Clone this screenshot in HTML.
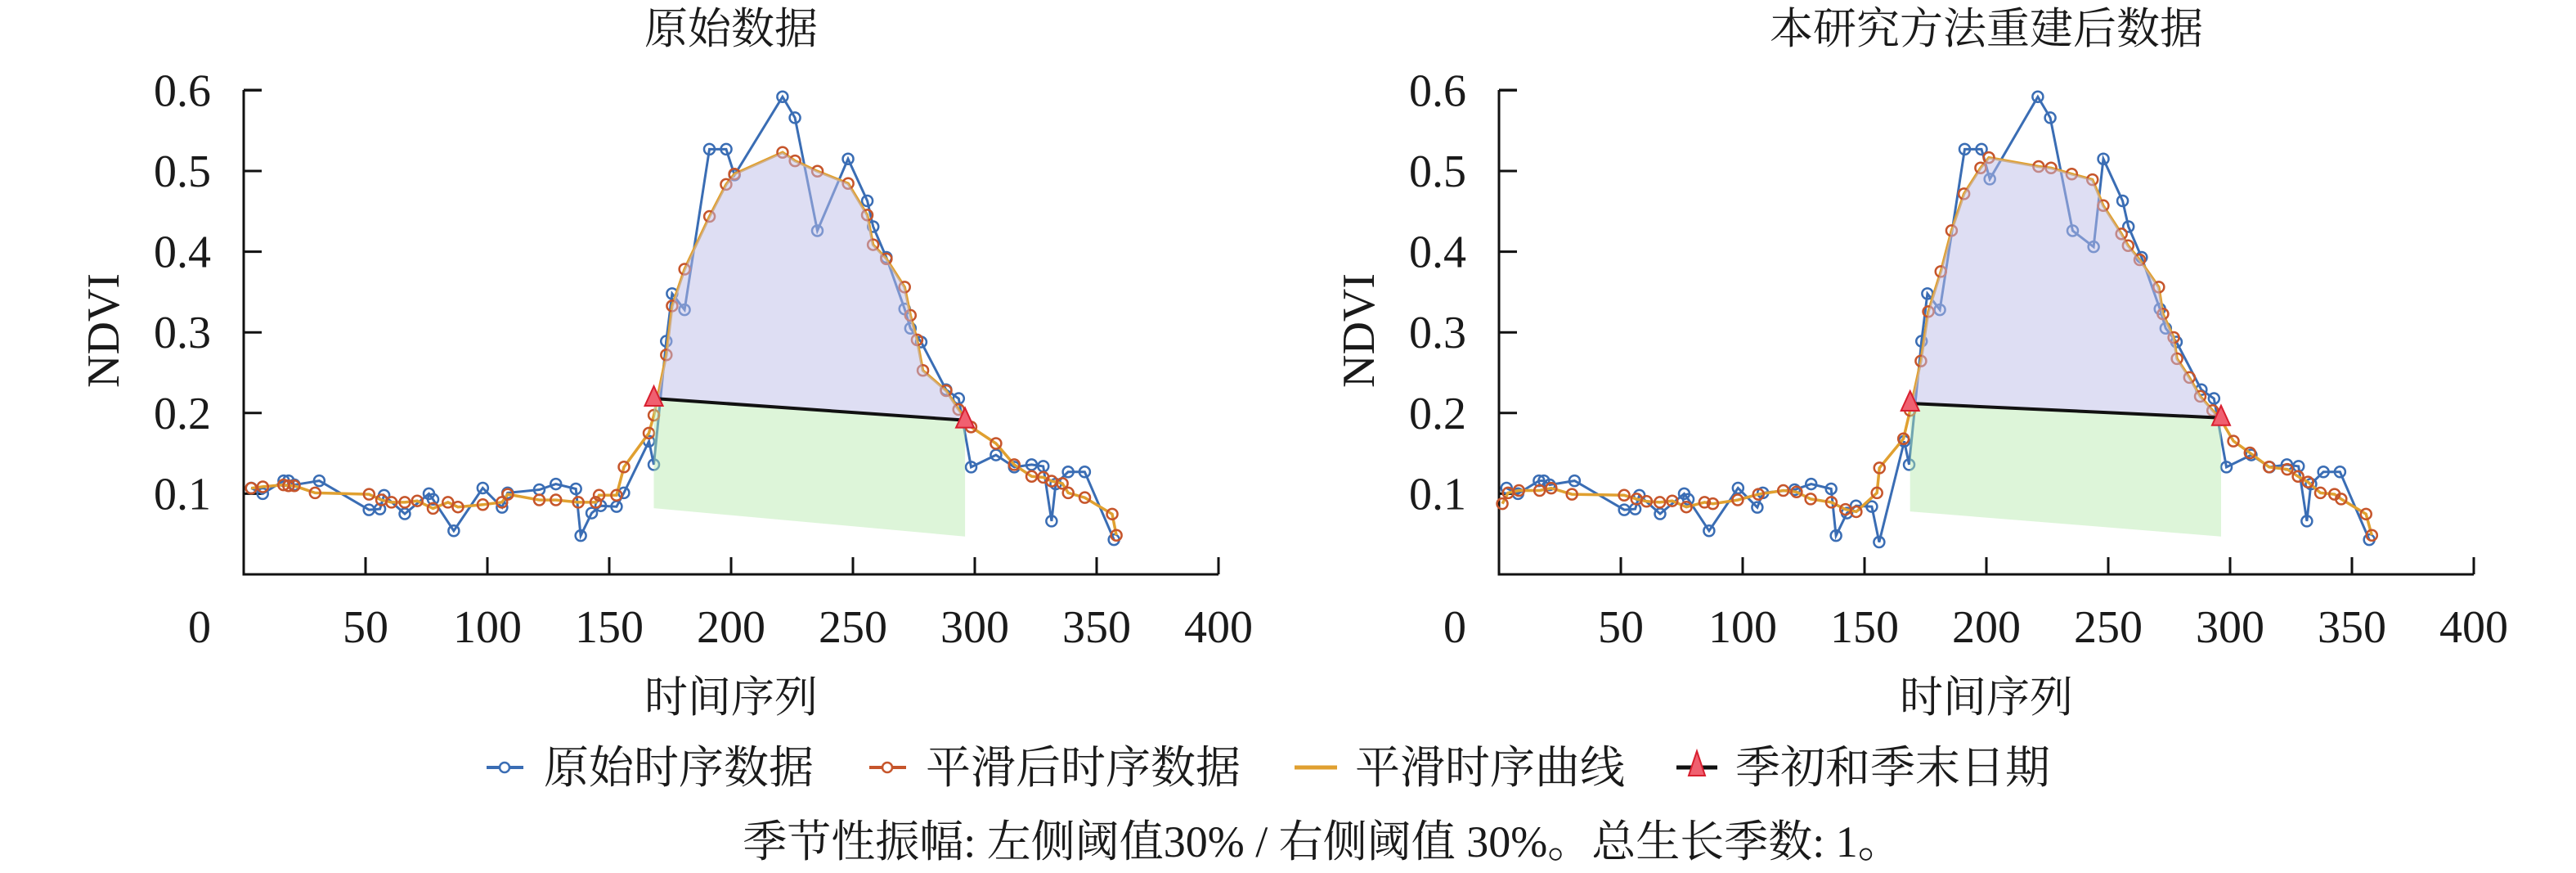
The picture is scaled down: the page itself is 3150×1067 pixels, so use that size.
<!DOCTYPE html>
<html><head><meta charset="utf-8">
<style>
html,body{margin:0;padding:0;background:#fff;}
svg{display:block;}
text{font-family:"Liberation Serif","Noto Serif CJK SC",serif;fill:#1a1a1a;}
</style></head>
<body>
<svg id="s" width="3150" height="1067" viewBox="0 0 3150 1067" xmlns="http://www.w3.org/2000/svg"></svg>
<script>
const S=document.getElementById('s');
let h='';
const blueL=[[3.1,.107],[7.8,.100],[16.4,.116],[18.4,.116],[20.8,.111],[31,.116],[51.4,.080],[55.9,.081],[57.6,.098],[66.1,.075],[76,.100],[77.7,.093],[86.2,.054],[98.1,.107],[106,.083],[108.3,.101],[121.3,.105],[128.1,.112],[136.3,.106],[138.3,.048],[142.8,.076],[146.5,.085],[153,.084],[156,.101],[166.3,.165],[168.3,.136],[173.4,.289],[175.8,.348],[180.9,.328],[191.1,.527],[198,.527],[201.4,.495],[221.1,.592],[226.2,.566],[235.4,.426],[248,.515],[255.9,.463],[258.3,.431],[263.7,.393],[271.2,.329],[273.6,.305],[278,.288],[288.2,.229],[293.4,.218],[298.5,.133],[308.7,.148],[316.2,.133],[323.3,.136],[328.1,.134],[331.5,.066],[333.2,.112],[338.3,.127],[345.1,.127],[357.1,.043]];
const oZL=[[303,1035],[317,1032],[342,1028],[348,1030],[355,1030],[380,1045],[445,1048],[460,1060],[472,1065],[488,1065],[503,1062],[522,1078],[540,1065],[552,1075],[582,1070],[605,1065],[612,1048],[650,1060],[670,1060],[697,1065],[718,1065],[722,1050],[743,1050],[752,990],[782,918],[788,880],[803,752],[810,648],[825,570],[855,458],[875,390],[885,368],[943,322],[958,340],[985,362],[1022,388],[1045,455],[1052,518],[1068,548],[1090,608],[1097,668],[1105,720],[1112,785],[1140,828],[1155,868],[1170,905],[1200,940],[1222,985],[1243,1010],[1257,1012],[1267,1020],[1280,1025],[1287,1045],[1307,1055],[1340,1090],[1345,1135]];
const orangeL=oZL.map(p=>[(p[0]-294)/2.935,(1218-p[1])/1713]);
const oZR=[[258,1068],[265,1045],[278,1040],[303,1040],[317,1035],[342,1048],[405,1050],[420,1058],[432,1063],[448,1065],[463,1062],[480,1075],[502,1065],[512,1068],[542,1060],[567,1048],[597,1040],[613,1043],[630,1058],[655,1065],[672,1080],[685,1085],[710,1045],[713,992],[742,930],[750,870],[763,765],[772,660],[787,575],[800,488],[815,410],[835,355],[845,333],[905,352],[920,355],[945,368],[970,380],[983,435],[1005,495],[1013,520],[1027,550],[1050,608],[1055,665],[1068,715],[1072,760],[1087,800],[1100,840],[1115,870],[1125,890],[1140,935],[1160,960],[1183,990],[1205,995],[1218,1010],[1230,1022],[1245,1045],[1262,1048],[1270,1058],[1300,1090],[1307,1135]];
const orangeR=oZR.map(p=>[(p[0]-254)/2.94,(1218-p[1])/1713]);
const blueR=blueL.map(p=>p.slice());
function setB(x,v){let b=0,bd=1e9;blueR.forEach((p,i)=>{let d=Math.abs(p[0]-x);if(d<bd){bd=d;b=i}});blueR[b][1]=v;}
setB(153,.084);setB(156,.04);setB(201.4,.49);setB(235.4,.426);blueR.splice(35,0,[244,.406]);
function plot(ox,title,blue,orange,t1,t2,g1,g2){
  const X=d=>ox+d*2.98, Y=v=>702-v*986;
  const pts=a=>a.map(p=>X(p[0]).toFixed(1)+','+Y(p[1]).toFixed(1)).join(' ');
  h+=`<path d="M${ox} 110 H${ox+22} M${ox} 110 V702 H${ox+1192}" stroke="#111" stroke-width="3" fill="none"/>`;
  for(let v=1;v<=6;v++){const y=Y(v/10);h+=`<line x1="${ox}" y1="${y}" x2="${ox+22}" y2="${y}" stroke="#111" stroke-width="3"/>`;
    h+=`<text x="${ox-40}" y="${y+19}" font-size="56" text-anchor="end">0.${v}</text>`;}
  for(let d=50;d<=400;d+=50){const x=X(d);h+=`<line x1="${x}" y1="681" x2="${x}" y2="702" stroke="#111" stroke-width="3"/>`;
    h+=`<text x="${x}" y="785" font-size="56" text-anchor="middle">${d}</text>`;}
  h+=`<text x="${ox-54}" y="785" font-size="56" text-anchor="middle">0</text>`;
  h+=`<text x="${ox+596}" y="53" font-size="53" text-anchor="middle">${title}</text>`;
  h+=`<text x="${ox+596}" y="870" font-size="53" text-anchor="middle">时间序列</text>`;
  h+=`<text transform="translate(${ox-153},404) rotate(-90)" font-size="56" text-anchor="middle">NDVI</text>`;
  h+=`<polyline points="${pts(blue)}" fill="none" stroke="#3a6db4" stroke-width="3"/>`;
  blue.forEach(p=>h+=`<circle cx="${X(p[0])}" cy="${Y(p[1])}" r="6.5" fill="none" stroke="#3a6db4" stroke-width="2.5"/>`);
  h+=`<polyline points="${pts(orange)}" fill="none" stroke="#e0a030" stroke-width="3.5"/>`;
  orange.forEach(p=>h+=`<circle cx="${X(p[0])}" cy="${Y(p[1])}" r="6.5" fill="none" stroke="#c6552b" stroke-width="2.5"/>`);
  const inner=orange.filter(p=>p[0]>t1[0]&&p[0]<t2[0]);
  h+=`<polygon points="${pts([t1,...inner,t2])}" fill="rgb(190,190,232)" fill-opacity="0.5"/>`;
  h+=`<polygon points="${pts([t1,[t1[0],g1],[t2[0],g2],t2])}" fill="rgb(180,232,170)" fill-opacity="0.45"/>`;
  h+=`<line x1="${X(t1[0])}" y1="${Y(t1[1])}" x2="${X(t2[0])}" y2="${Y(t2[1])}" stroke="#111" stroke-width="4"/>`;
  [t1,t2].forEach(t=>{const x=X(t[0]),y=Y(t[1]);h+=`<polygon points="${x},${y-15} ${x-11},${y+9} ${x+11},${y+9}" fill="#f06070" stroke="#d82030" stroke-width="2"/>`;});
}
plot(298,'原始数据',blueL,orangeL,[168.3,.218],[296,.191],.082,.047);
plot(1833,'本研究方法重建后数据',blueR,orangeR,[168.7,.212],[296.3,.194],.078,.047);
const ly=938;
h+=`<line x1="595" y1="${ly}" x2="640" y2="${ly}" stroke="#3a6db4" stroke-width="4"/><circle cx="617" cy="${ly}" r="6" fill="#fff" stroke="#3a6db4" stroke-width="2.5"/>`;
h+=`<text x="665" y="${ly+19}" font-size="55">原始时序数据</text>`;
h+=`<line x1="1063" y1="${ly}" x2="1108" y2="${ly}" stroke="#c6552b" stroke-width="4"/><circle cx="1085" cy="${ly}" r="6" fill="#fff" stroke="#c6552b" stroke-width="2.5"/>`;
h+=`<text x="1132" y="${ly+19}" font-size="55">平滑后时序数据</text>`;
h+=`<line x1="1583" y1="${ly}" x2="1635" y2="${ly}" stroke="#e0a030" stroke-width="5"/>`;
h+=`<text x="1657" y="${ly+19}" font-size="55">平滑时序曲线</text>`;
h+=`<line x1="2050" y1="${ly}" x2="2100" y2="${ly}" stroke="#111" stroke-width="5"/><polygon points="2075,${ly-20} 2065,${ly+10} 2085,${ly+10}" fill="#f06070" stroke="#d82030" stroke-width="2"/>`;
h+=`<text x="2122" y="${ly+19}" font-size="55">季初和季末日期</text>`;
h+=`<text x="1617" y="1047" font-size="54" text-anchor="middle">季节性振幅: 左侧阈值30% / 右侧阈值 30%。总生长季数: 1。</text>`;
S.innerHTML=h;
</script>
</body></html>
